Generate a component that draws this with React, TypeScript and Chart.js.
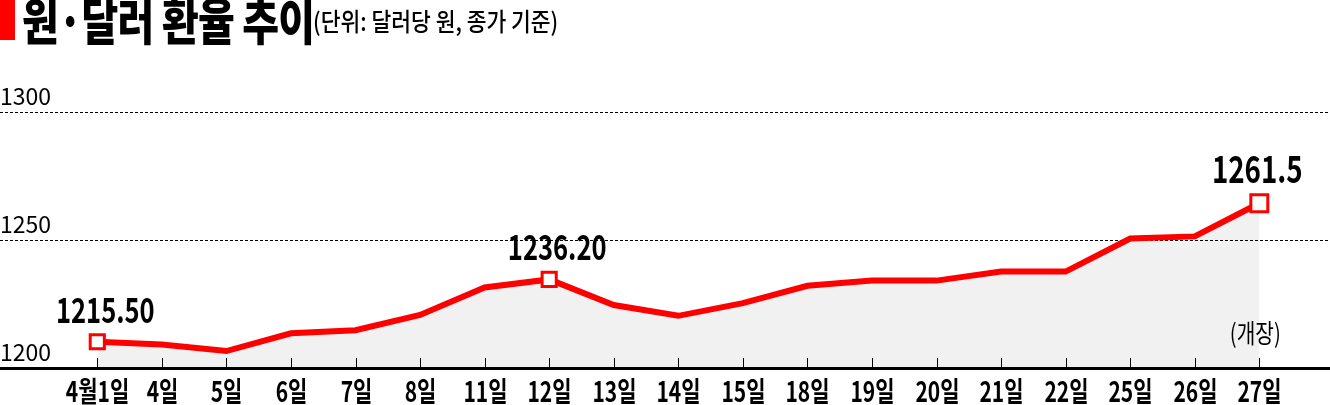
import { useEffect, useRef } from 'react'
import { Chart, registerables } from 'chart.js'

Chart.register(...registerables)

const TITLE = '원·달러 환율 추이'
const SUBTITLE = '(단위: 달러당 원, 종가 기준)'
const DAYS = ['4월1일', '4일', '5일', '6일', '7일', '8일', '11일', '12일', '13일', '14일', '15일', '18일', '19일', '20일', '21일', '22일', '25일', '26일', '27일']
const RATES = [1215.5, 1214.6, 1212.4, 1218.3, 1219.3, 1224.4, 1233.5, 1236.2, 1227.7, 1224.1, 1228.3, 1234.1, 1235.8, 1235.8, 1238.8, 1238.8, 1249.8, 1250.5, 1261.5]
const MARKED = [0, 7, 18]
const MARK_LABELS = ['1215.50', '1236.20', '1261.5']
const GRID_TICKS = [1200, 1250, 1300]
const LAST_NOTE = '(개장)'

const KR = "'Noto Sans CJK KR', 'Noto Sans', sans-serif"
const RED = '#ff0000'

// canvas text squeezed horizontally, the original uses a condensed gothic face
function squeezeText(ctx: CanvasRenderingContext2D, text: string, x: number, y: number, font: string, sx: number) {
  ctx.save()
  ctx.font = font
  ctx.translate(x, y)
  ctx.scale(sx, 1)
  ctx.textAlign = 'center'
  ctx.textBaseline = 'alphabetic'
  ctx.fillStyle = '#000'
  ctx.fillText(text, 0, 0)
  ctx.restore()
}

const annotate = {
  id: 'annotate',
  afterDraw(chart: any) {
    const { ctx, chartArea, scales } = chart
    const xs = scales.x
    const ys = scales.y
    const last = RATES.length - 1

    ctx.save()
    ctx.strokeStyle = '#000'
    ctx.lineWidth = 1
    DAYS.forEach((day, i) => {
      const px = Math.round(xs.getPixelForValue(i)) + 0.5
      ctx.beginPath()
      ctx.moveTo(px, chartArea.bottom - 10)
      ctx.lineTo(px, chartArea.bottom)
      ctx.stroke()
      squeezeText(ctx, day, px, chartArea.bottom + 34, `bold 28px ${KR}`, 0.75)
    })
    ctx.restore()

    MARKED.forEach((idx, k) => {
      const px = xs.getPixelForValue(idx)
      const py = ys.getPixelForValue(RATES[idx])
      if (idx === last) {
        squeezeText(ctx, MARK_LABELS[k], px - 2, py - 20, `bold 38px ${KR}`, 0.73)
      } else {
        squeezeText(ctx, MARK_LABELS[k], px + 8, py - 19, `bold 35px ${KR}`, 0.73)
      }
    })

    squeezeText(ctx, LAST_NOTE, xs.getPixelForValue(last) - 4, chartArea.bottom - 25, `26px ${KR}`, 0.78)
  },
}

export default function App() {
  const canvasRef = useRef<HTMLCanvasElement>(null)
  const chartRef = useRef<Chart | null>(null)

  useEffect(() => {
    document.body.style.margin = '0'
    if (!canvasRef.current) return
    if (chartRef.current) chartRef.current.destroy()

    chartRef.current = new Chart(canvasRef.current, {
      type: 'line',
      data: {
        datasets: [
          {
            data: RATES.map((v, i) => ({ x: i, y: v })),
            xAxisID: 'x',
            yAxisID: 'y',
            borderColor: RED,
            borderWidth: 6,
            backgroundColor: 'rgba(0,0,0,0.055)',
            fill: 'start',
            tension: 0,
            pointStyle: 'rect',
            pointRadius: (c: any) => (MARKED.includes(c.dataIndex) ? (c.dataIndex === RATES.length - 1 ? 12 : 10) : 0),
            pointHoverRadius: 0,
            pointBackgroundColor: '#fff',
            pointBorderColor: RED,
            pointBorderWidth: 3,
          },
        ],
      },
      options: {
        animation: false,
        responsive: false,
        maintainAspectRatio: false,
        events: [],
        layout: { autoPadding: false, padding: { top: 112, bottom: 37, left: 0, right: 0 } },
        plugins: { legend: { display: false }, tooltip: { enabled: false } },
        scales: {
          x: {
            type: 'linear',
            min: -1.507,
            max: 19.095,
            grid: { display: false, drawTicks: false },
            border: { display: true, color: '#000', width: 3 },
            ticks: { display: false },
          },
          y: { display: false, min: 1206.76, max: 1291.84 },
          yg: {
            position: 'left',
            min: 1200,
            max: 1300,
            afterBuildTicks: (s: any) => { s.ticks = GRID_TICKS.map(v => ({ value: v })) },
            grid: { color: '#000', lineWidth: 1, drawTicks: false },
            border: { display: false, dash: [3, 2] },
            ticks: {
              mirror: true,
              padding: 0,
              labelOffset: -16,
              color: '#000',
              font: { family: KR, size: 23 },
              callback: (v: any) => String(v),
            },
          },
        },
      },
      plugins: [annotate],
    } as any)

    return () => { if (chartRef.current) chartRef.current.destroy() }
  }, [])

  return (
    <div style={{ position: 'relative', width: 1330, height: 405, overflow: 'hidden', background: '#fff' }}>
      <canvas ref={canvasRef} width={1330} height={405} style={{ position: 'absolute', left: 0, top: 0 }} />
      <div style={{ position: 'absolute', left: 0, top: 0, width: 15, height: 40, background: RED }} />
      <div style={{ position: 'absolute', left: 22, top: -7, fontFamily: KR, fontWeight: 900, fontSize: 50, lineHeight: '50px', letterSpacing: -1, transform: 'scaleX(0.8)', transformOrigin: 'left top', whiteSpace: 'nowrap', color: '#000' }}>
        {TITLE}
      </div>
      <div style={{ position: 'absolute', left: 313, top: 8, fontFamily: KR, fontWeight: 500, fontSize: 25, lineHeight: '25px', transform: 'scaleX(0.86)', transformOrigin: 'left top', whiteSpace: 'nowrap', color: '#000' }}>
        {SUBTITLE}
      </div>
    </div>
  )
}
